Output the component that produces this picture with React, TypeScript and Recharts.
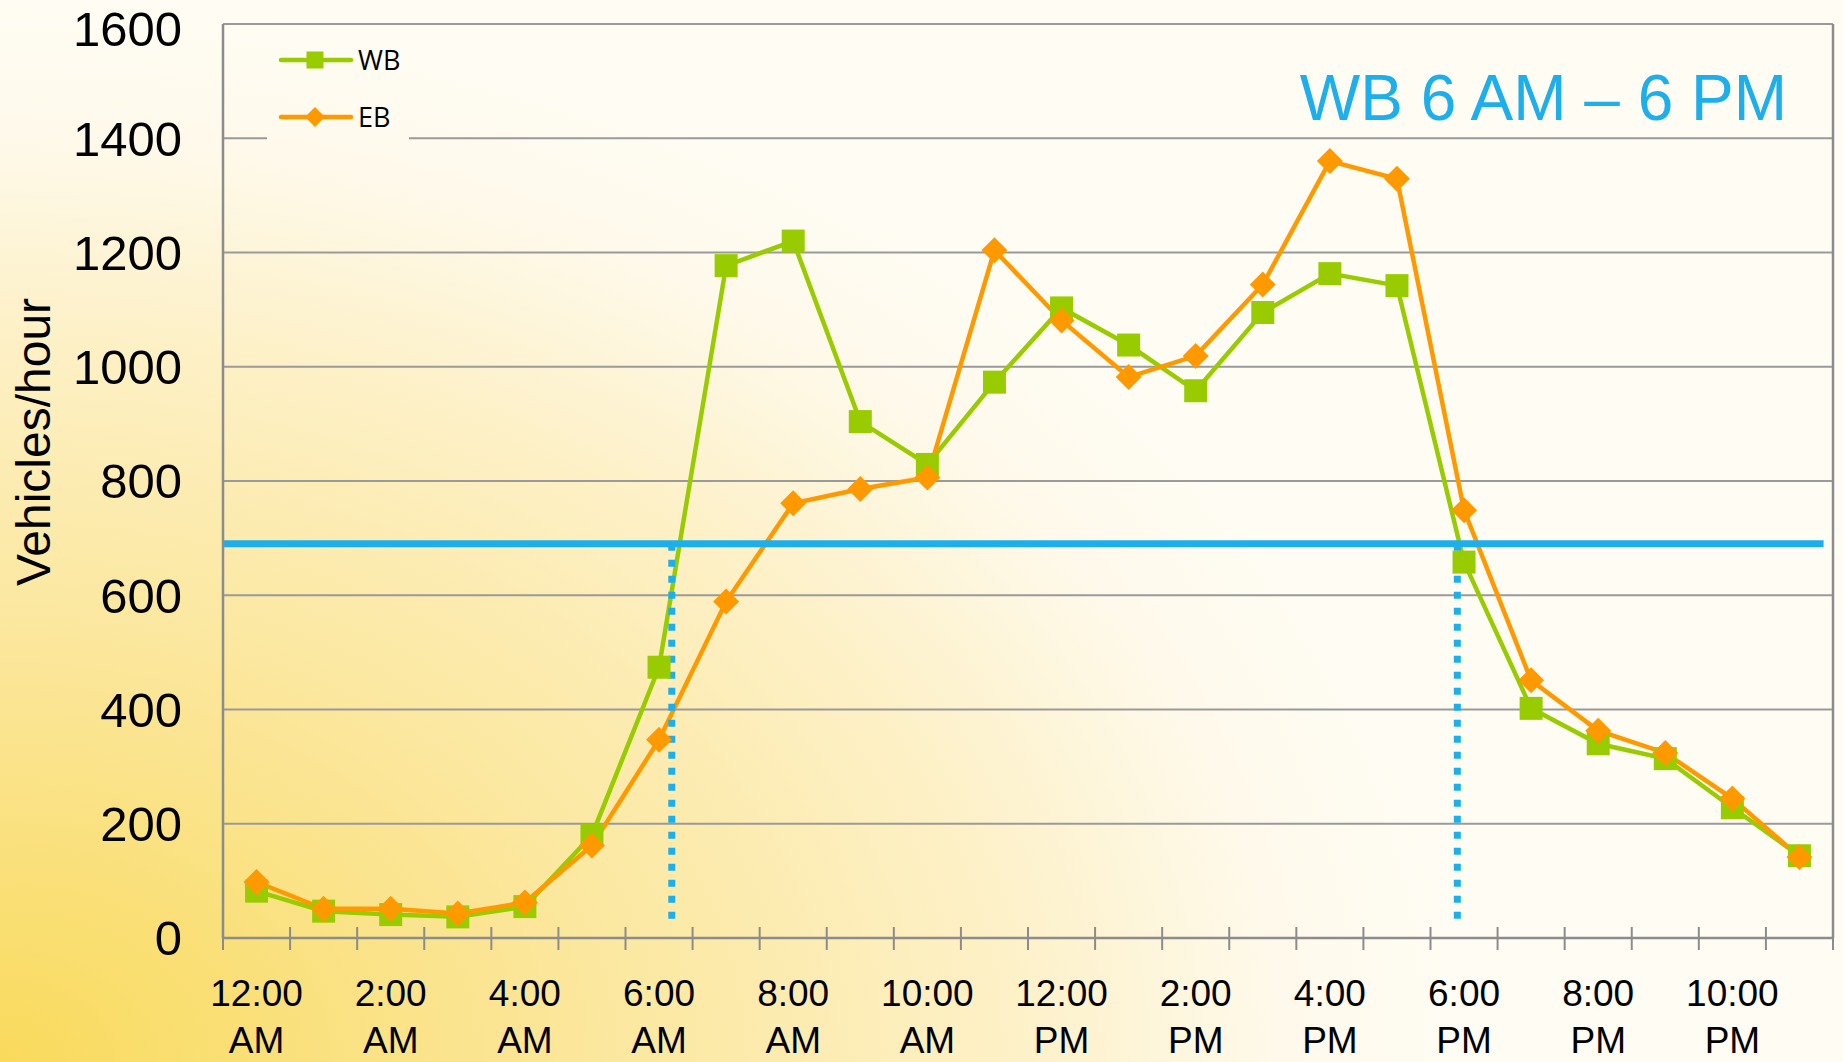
import React from "react";
import {
  CartesianGrid, Legend, Line, LineChart, ReferenceLine, XAxis, YAxis,
} from "recharts";

const HOURS = [
  "12:00 AM", "1:00 AM", "2:00 AM", "3:00 AM", "4:00 AM", "5:00 AM",
  "6:00 AM", "7:00 AM", "8:00 AM", "9:00 AM", "10:00 AM", "11:00 AM",
  "12:00 PM", "1:00 PM", "2:00 PM", "3:00 PM", "4:00 PM", "5:00 PM",
  "6:00 PM", "7:00 PM", "8:00 PM", "9:00 PM", "10:00 PM", "11:00 PM",
];
const WB = [82, 47, 41, 37, 55, 180, 474, 1177, 1220, 904, 829, 973, 1103, 1038, 958, 1095, 1163, 1142, 658, 402, 340, 314, 228, 144];
const EB = [98, 51, 51, 43, 62, 162, 347, 589, 761, 786, 806, 1204, 1081, 982, 1019, 1144, 1360, 1329, 749, 451, 363, 324, 244, 142];
const Y_TICKS = [0, 200, 400, 600, 800, 1000, 1200, 1400, 1600];

// capacity threshold and the window edges where WB stays above it
const THRESHOLD = 690;
const WINDOW_START = 6.19;
const WINDOW_END = 17.9;

const C = {
  wb: "#99cc00",
  eb: "#ff9900",
  blue: "#1daeec",
  axis: "#8c8c8c",
  grid: "#9a9a9a",
};
const FONT = "'Liberation Sans', Arial, sans-serif";
const BG_STOPS = "#f9da5c 0%, #fbe594 35%, #fdf0c4 68%, #fef9ea 88%, #fffcf3 100%";

const data = HOURS.map((h, i) => ({ i, hour: h, wb: WB[i], eb: EB[i] }));

// tick marks sit on category boundaries, labels on every other category centre
const xTicks: number[] = [];
HOURS.forEach((_, i) => {
  xTicks.push(i - 0.5);
  if (i % 2 === 0) xTicks.push(i);
});
xTicks.push(HOURS.length - 0.5);

function HourTick(props: any) {
  const { x, y, payload } = props;
  const v = payload.value;
  if (!Number.isInteger(v)) {
    return <line x1={x} x2={x} y1={y - 11} y2={y + 12} stroke={C.axis} strokeWidth={2} />;
  }
  const [t, ampm] = HOURS[v].split(" ");
  return (
    <text x={x} y={y} textAnchor="middle" fontSize={37} fill="#000" fontFamily={FONT}>
      <tspan x={x} dy={68}>{t}</tspan>
      <tspan x={x} dy={47}>{ampm}</tspan>
    </text>
  );
}

function Square(props: any) {
  const { cx, cy, index } = props;
  if (cx == null || cy == null) return <g key={`s${index}`} />;
  return <rect key={`s${index}`} x={cx - 11.5} y={cy - 11.5} width={23} height={23} fill={C.wb} />;
}

function Diamond(props: any) {
  const { cx, cy, index } = props;
  if (cx == null || cy == null) return <g key={`d${index}`} />;
  const r = 13;
  return (
    <polygon
      key={`d${index}`}
      points={`${cx},${cy - r} ${cx + r},${cy} ${cx},${cy + r} ${cx - r},${cy}`}
      fill={C.eb}
    />
  );
}

function YTitle(props: any) {
  const vb = props.viewBox || { x: 0, y: 24, width: 223, height: 914 };
  const x = vb.x + 50;
  const y = vb.y + vb.height / 2 - 39;
  return (
    <text x={x} y={y} transform={`rotate(-90, ${x}, ${y})`} textAnchor="middle"
      fontSize={48} fill="#000" fontFamily={FONT}>
      Vehicles/hour
    </text>
  );
}

function LegendBox() {
  const rows = [
    { name: "WB", color: C.wb, shape: "square" },
    { name: "EB", color: C.eb, shape: "diamond" },
  ];
  return (
    <svg width={142} height={110}>
      {rows.map((r, k) => {
        const y = 30 + k * 57;
        return (
          <g key={r.name}>
            <line x1={14} x2={84} y1={y} y2={y} stroke={r.color} strokeWidth={4.5} strokeLinecap="round" />
            {r.shape === "square" ? (
              <rect x={48 - 8.5} y={y - 8.5} width={17} height={17} fill={r.color} />
            ) : (
              <polygon points={`48,${y - 10} 58,${y} 48,${y + 10} 38,${y}`} fill={r.color} />
            )}
            <text x={91} y={y + 10} fontSize={27} fill="#000" fontFamily="'Open Sans', sans-serif">
              {r.name}
            </text>
          </g>
        );
      })}
    </svg>
  );
}

export default function App() {
  return (
    <div
      style={{
        position: "relative",
        width: 1843,
        height: 1062,
        overflow: "hidden",
        background: `radial-gradient(ellipse 1450px 1050px at 0% 100%, ${BG_STOPS})`,
      }}
    >
      <style>{"body{margin:0}"}</style>
      <LineChart width={1843} height={1062} data={data} margin={{ top: 24, right: 10, left: 0, bottom: 0 }}>
        <CartesianGrid horizontal vertical={false} stroke={C.grid} strokeWidth={1.8} />
        <XAxis
          dataKey="i"
          type="number"
          domain={[-0.5, HOURS.length - 0.5]}
          ticks={xTicks}
          interval={0}
          height={124}
          tickSize={0}
          tickMargin={0}
          tickLine={false}
          axisLine={{ stroke: C.axis, strokeWidth: 2.5 }}
          tick={<HourTick />}
        />
        <YAxis
          type="number"
          domain={[0, 1600]}
          ticks={Y_TICKS}
          width={223}
          tickSize={0}
          tickMargin={41}
          tickLine={false}
          axisLine={{ stroke: C.axis, strokeWidth: 2.5 }}
          tick={{ fontSize: 49, fill: "#000", fontFamily: FONT }}
          label={{ content: (p: any) => <YTitle {...p} /> }}
        />
        <ReferenceLine x={HOURS.length - 0.5} stroke={C.axis} strokeWidth={2.5} />
        <Line
          type="linear"
          dataKey="wb"
          name="WB"
          stroke={C.wb}
          strokeWidth={4.5}
          dot={(p: any) => <Square {...p} />}
          activeDot={false}
          isAnimationActive={false}
        />
        <Line
          type="linear"
          dataKey="eb"
          name="EB"
          stroke={C.eb}
          strokeWidth={4.5}
          dot={(p: any) => <Diamond {...p} />}
          activeDot={false}
          isAnimationActive={false}
        />
        <ReferenceLine
          segment={[{ x: -0.5, y: THRESHOLD }, { x: 23.36, y: THRESHOLD }]}
          stroke={C.blue}
          strokeWidth={7}
        />
        <ReferenceLine
          segment={[{ x: WINDOW_START, y: THRESHOLD }, { x: WINDOW_START, y: 30 }]}
          stroke={C.blue}
          strokeWidth={7}
          strokeDasharray="7 9"
        />
        <ReferenceLine
          segment={[{ x: WINDOW_END, y: THRESHOLD }, { x: WINDOW_END, y: 30 }]}
          stroke={C.blue}
          strokeWidth={7}
          strokeDasharray="7 9"
        />
        <Legend
          layout="vertical"
          align="center"
          verticalAlign="middle"
          wrapperStyle={{
            left: 267,
            top: 30,
            width: 142,
            height: 110,
            background: `radial-gradient(ellipse 1450px 1050px at -267px 1032px, ${BG_STOPS})`,
          }}
          content={() => <LegendBox />}
        />
      </LineChart>
      <div
        style={{
          position: "absolute",
          right: 56,
          top: 66,
          fontSize: 64,
          lineHeight: "64px",
          color: C.blue,
          fontFamily: FONT,
          whiteSpace: "nowrap",
        }}
      >
        WB 6 AM – 6 PM
      </div>
    </div>
  );
}
